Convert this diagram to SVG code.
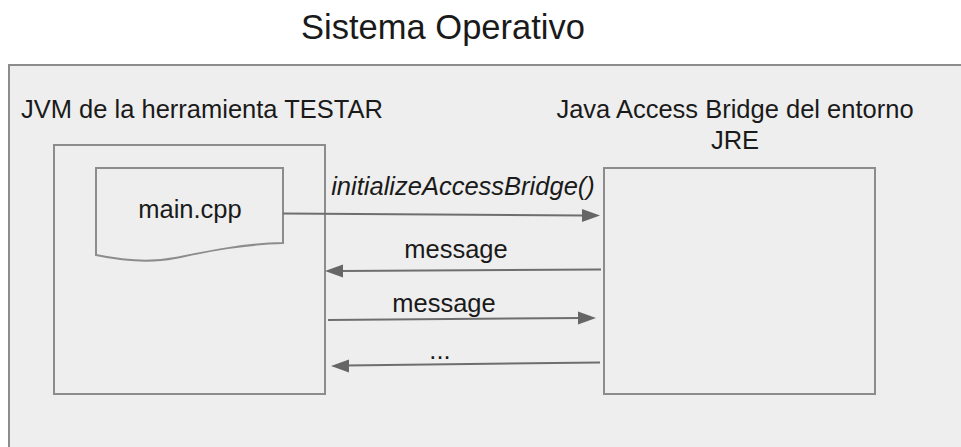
<svg xmlns="http://www.w3.org/2000/svg" width="961" height="447" viewBox="0 0 961 447">
<defs>
<style>
text{font-family:"Liberation Sans",Arial,sans-serif;fill:#1a1a1a}
.box{fill:#eeeeee;stroke:#8c8c8c;stroke-width:2}
.edge{fill:none;stroke:#6e6e6e;stroke-width:2}
.head{fill:#666666}
.lbl{font-size:25.5px;text-anchor:middle}
</style>
</defs>
<rect width="961" height="447" fill="#ffffff"/>
<g id="os">
<rect class="box" x="9" y="65" width="970" height="400"/>
<text x="443" y="39" font-size="34.5" text-anchor="middle">Sistema Operativo</text>
</g>
<g id="jvm">
<rect class="box" x="54" y="145" width="271" height="249"/>
<text x="21" y="118" font-size="25.5">JVM de la herramienta TESTAR</text>
</g>
<g id="maincpp">
<path class="box" d="M96,168 H283 V243 C240,244 200,253 175,258 C150,263 120,260 96,255 Z"/>
<text class="lbl" x="190" y="218">main.cpp</text>
</g>
<g id="jab">
<rect class="box" x="604" y="168" width="271" height="226"/>
<text class="lbl" x="735" y="118">Java Access Bridge del entorno</text>
<text class="lbl" x="735" y="149">JRE</text>
</g>
<g id="connectors">
<line class="edge" x1="283" y1="213.5" x2="584" y2="215.4"/>
<path class="head" d="M600,215.5 L582,209 L582,222 Z"/>
<text class="lbl" x="463" y="195" font-style="italic">initializeAccessBridge()</text>
<line class="edge" x1="601" y1="269.5" x2="340" y2="271"/>
<path class="head" d="M325,271 L343,264.5 L343,277.5 Z"/>
<text class="lbl" x="456" y="258">message</text>
<line class="edge" x1="328" y1="320" x2="582" y2="318"/>
<path class="head" d="M596,318 L578,311.5 L578,324.5 Z"/>
<text class="lbl" x="444" y="312">message</text>
<line class="edge" x1="600" y1="362.5" x2="346" y2="365.5"/>
<path class="head" d="M331,366 L349,359.5 L349,372.5 Z"/>
<text class="lbl" x="440" y="359">...</text>
</g>
</svg>
